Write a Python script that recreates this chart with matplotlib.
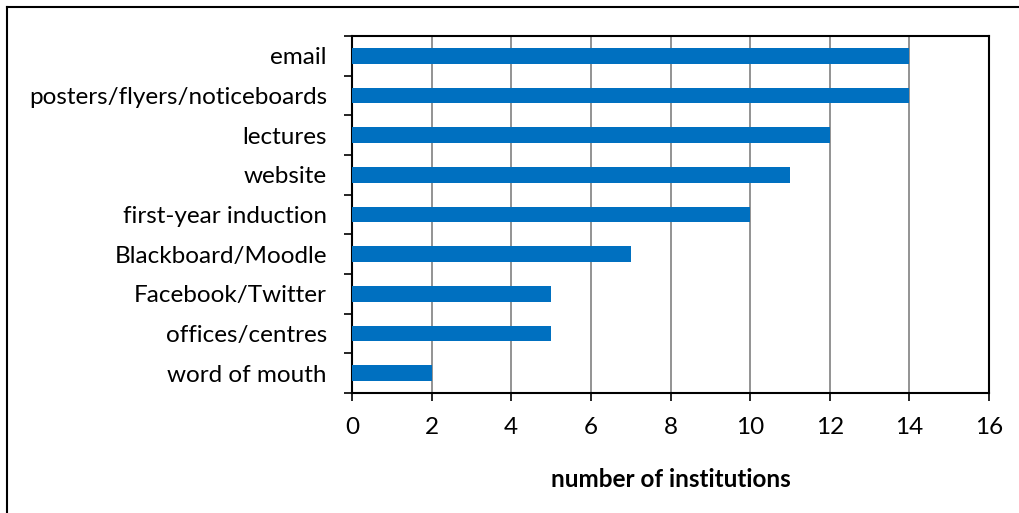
import matplotlib
matplotlib.use("Agg")
import matplotlib.pyplot as plt
from matplotlib.lines import Line2D

categories = ["email", "posters/flyers/noticeboards", "lectures", "website",
              "first-year induction", "Blackboard/Moodle", "Facebook/Twitter",
              "offices/centres", "word of mouth"]
values = [14, 14, 12, 11, 10, 7, 5, 5, 2]
xticks = [0, 2, 4, 6, 8, 10, 12, 14, 16]

plt.rcParams['font.family'] = ['Lato', 'DejaVu Sans']

fig = plt.figure(figsize=(10.2, 5.13), dpi=100)
ax = fig.add_axes([352/1020, 1-393/513, (989-352)/1020, (393-36)/513])

n = len(categories)
ypos = list(range(n))
ax.barh(ypos, values, height=0.4, color="#0070C0", zorder=3)
ax.set_ylim(n - 0.5, -0.5)
ax.set_xlim(0, 16)
ax.set_xticks(xticks)
ax.set_xticklabels([str(t) for t in xticks], fontsize=17.5)
ax.set_yticks(ypos)
ax.set_yticklabels(categories, fontsize=17.5)
ax.tick_params(axis='y', length=0, pad=18)
# boundary ticks
ax.set_yticks([i - 0.5 for i in range(n + 1)], minor=True)
ax.tick_params(axis='y', which='minor', length=6, width=1.2, direction='out')
ax.tick_params(axis='x', length=6, width=1.2, direction='out', pad=11)
ax.grid(axis='x', color='#808080', linewidth=1.2, zorder=0)
for s in ax.spines.values():
    s.set_color('black')
    s.set_linewidth(1.5)
ax.set_xlabel("number of institutions", fontsize=17.5, fontweight='bold', labelpad=22)

# outer frame (left and top visible)
fig.add_artist(Line2D([7/1020, 7/1020], [0, 1-7/513], transform=fig.transFigure, color='black', linewidth=1.5))
fig.add_artist(Line2D([7/1020, 1], [1-7/513, 1-7/513], transform=fig.transFigure, color='black', linewidth=1.5))

fig.savefig("out.png", dpi=100)
